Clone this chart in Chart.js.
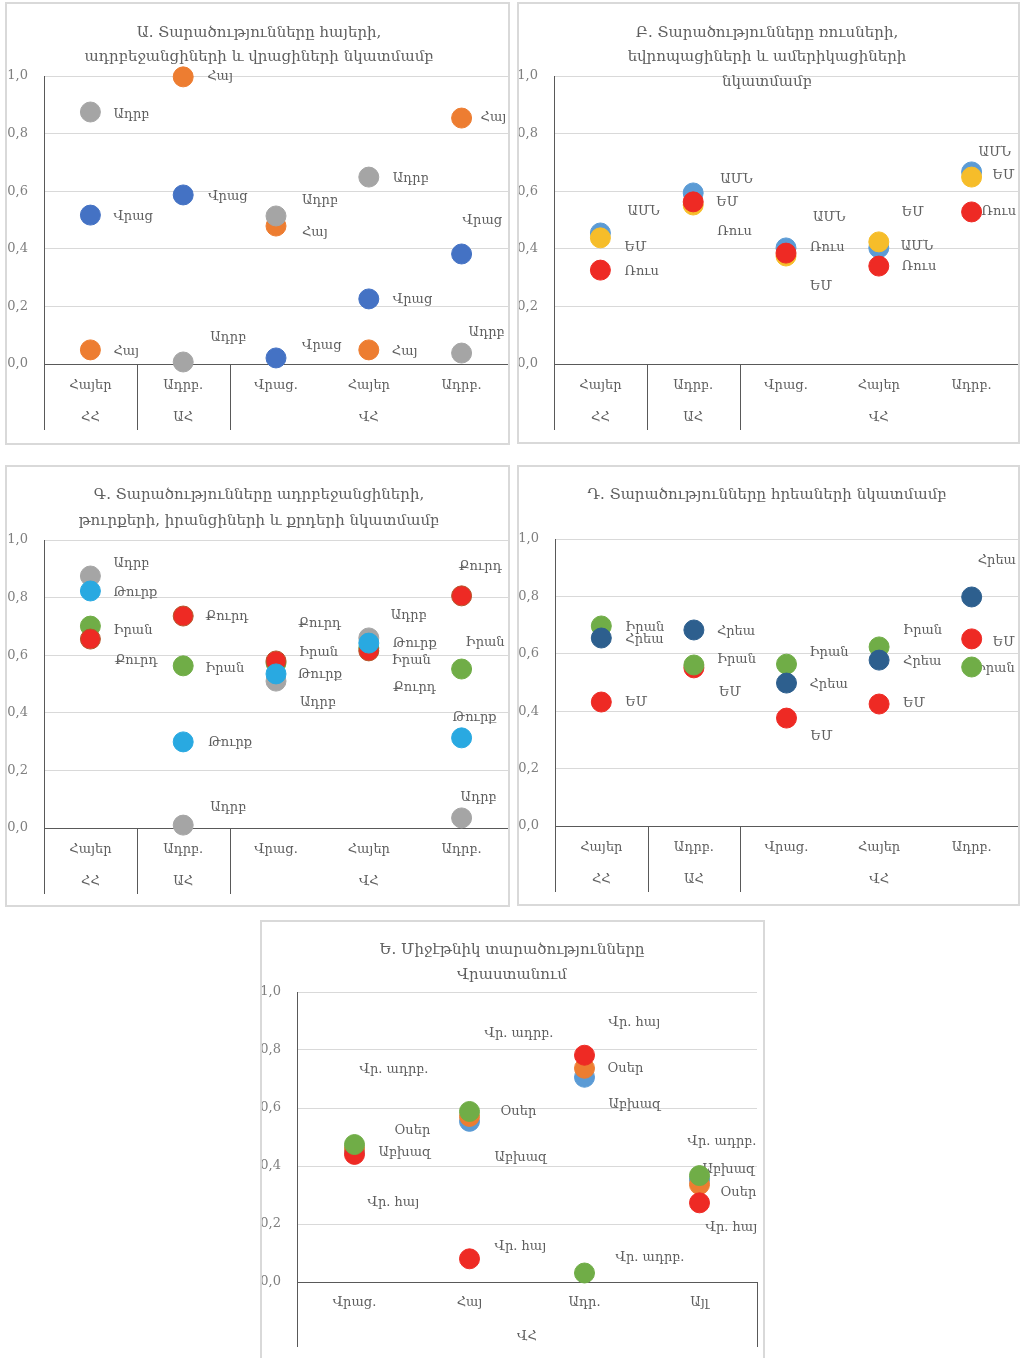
<!DOCTYPE html>
<html>
<head>
<meta charset="utf-8">
<script src="https://cdn.jsdelivr.net/npm/chart.js@4.4.0/dist/chart.umd.min.js"></script>
<style>
  body { margin: 0; background: #fff; overflow: hidden; }
  .box { position: absolute; border: 2px solid #d9d9d9; box-sizing: border-box; background: #fff; }
  .box div { position: absolute; left: 0; top: 0; right: 0; bottom: 0; }
</style>
</head>
<body>
<div class="box" id="boxA"><div><canvas id="chA"></canvas></div></div>
<div class="box" id="boxB"><div><canvas id="chB"></canvas></div></div>
<div class="box" id="boxC"><div><canvas id="chC"></canvas></div></div>
<div class="box" id="boxD"><div><canvas id="chD"></canvas></div></div>
<div class="box" id="boxE"><div><canvas id="chE"></canvas></div></div>
<script>
// categories and groups (label, first index, last index)
const catsAD = ['Հայեր', 'Ադրբ.', 'Վրաց.', 'Հայեր', 'Ադրբ.'];
const groupsAD = [['ՀՀ', 0, 0], ['ԱՀ', 1, 1], ['ՎՀ', 2, 4]];
const catsE = ['Վրաց.', 'Հայ', 'Ադր.', 'Այլ'];
const groupsE = [['ՎՀ', 0, 3]];

// A
const aAdrb = [0.875, 0.007, 0.514, 0.649, 0.038];
const aHay = [0.049, 0.997, 0.479, 0.049, 0.854];
const aVrac = [0.517, 0.587, 0.021, 0.226, 0.382];
// B
const bRus = [0.326, 0.563, 0.385, 0.34, 0.528];
const bEM = [0.438, 0.552, 0.375, 0.424, 0.649];
const bUSA = [0.455, 0.594, 0.403, 0.403, 0.667];
// C
const cTurk = [0.823, 0.299, 0.535, 0.642, 0.313];
const cKurd = [0.656, 0.736, 0.58, 0.615, 0.806];
const cIran = [0.701, 0.563, 0.573, 0.625, 0.552];
const cAdrb = [0.875, 0.01, 0.51, 0.66, 0.035];
// D
const dHrea = [0.655, 0.683, 0.498, 0.578, 0.798];
const dIran = [0.697, 0.561, 0.564, 0.624, 0.554];
const dEM = [0.432, 0.551, 0.376, 0.425, 0.652];
// E
const eAdrb = [0.474, 0.588, 0.031, 0.367];
const eHay = [0.44, 0.08, 0.782, 0.273];
const eOser = [0.46, 0.571, 0.737, 0.336];
const eAbkh = [0.45, 0.554, 0.706, 0.353];

// data label offsets from point centre (px)
const aAdrbPos = [[23, 3], [27, -24], [26, -15], [24, 2], [7, -20]];
const aHayPos = [[23, 2], [24, 0], [26, 7], [23, 2], [19, 0]];
const aVracPos = [[23, 2], [25, 2], [26, -12], [24, 1], [1, -33]];
const bUSAPos = [[27, -21], [27, -13], [27, -30], [22, -1], [7, -19]];
const bEMPos = [[24, 10], [23, -2], [24, 31], [23, -29], [21, -1]];
const bRusPos = [[24, 2], [24, 30], [24, -5], [23, 1], [10, 0]];
const cAdrbPos = [[23, -12], [27, -17], [24, 22], [22, -22], [-1, -20]];
const cTurkPos = [[23, 2], [25, 1], [22, 1], [24, 1], [-9, -20]];
const cIranPos = [[23, 5], [22, 3], [23, -10], [23, 13], [4, -26]];
const cKurdPos = [[24, 22], [22, 1], [22, -37], [24, 37], [-3, -29]];
const dIranPos = [[24, 2], [23, -5], [23, -12], [24, -16], [4, 2]];
const dHreaPos = [[24, 2], [23, 2], [23, 2], [24, 2], [6, -36]];
const dEMPos = [[24, 1], [25, 25], [24, 19], [24, 0], [21, 4]];
const eAdrbPos = [[5, -75], [15, -78], [31, -15], [-12, -34]];
const eHayPos = [[13, 48], [25, -12], [24, -33], [6, 25]];
const eOserPos = [[40, -18], [31, -5], [23, 0], [21, 8]];
const eAbkhPos = [[24, 1], [25, 36], [24, 27], [3, -10]];

const FONT = "'DejaVu Serif', serif";
const TEXT = '#5f5f5f';
const AXIS = '#595959';
const RED = '#ee2a24', ORANGE = '#ed7d31', GRAY = '#a5a5a5', BLUE = '#4472c4',
  LBLUE = '#5b9bd5', YELLOW = '#f6bd2a', GREEN = '#70ad47', CYAN = '#29a9e1', NAVY = '#2d5f8e';

function drawChart(id, o) {
  const box = document.getElementById('box' + id);
  box.style.left = o.box[0] + 'px';
  box.style.top = o.box[1] + 'px';
  box.style.width = o.box[2] + 'px';
  box.style.height = o.box[3] + 'px';
  const inL = o.box[0] + 2, inT = o.box[1] + 2;
  const inR = o.box[0] + o.box[2] - 2, inB = o.box[1] + o.box[3] - 2;

  // point labels drawn under the markers, like the original
  const labels = {
    id: 'pointLabels',
    beforeDatasetsDraw(chart) {
      const ctx = chart.ctx;
      ctx.save();
      ctx.font = '13px ' + FONT;
      ctx.fillStyle = TEXT;
      ctx.textAlign = 'left';
      ctx.textBaseline = 'middle';
      chart.data.datasets.forEach((ds, i) => {
        chart.getDatasetMeta(i).data.forEach((pt, j) => {
          const p = ds.pos[j];
          ctx.fillText(ds.label, pt.x + p[0], pt.y + p[1]);
        });
      });
      ctx.restore();
    }
  };

  // title, group row and separators under the axis
  const frame = {
    id: 'frame',
    afterDraw(chart) {
      const ctx = chart.ctx, xs = chart.scales.x, area = chart.chartArea;
      ctx.save();
      ctx.strokeStyle = AXIS;
      ctx.lineWidth = 1;
      const edges = o.groups.map(g => g[1] - 0.5);
      if (o.closeRight) edges.push(o.cats.length - 0.5);
      edges.forEach(v => {
        const x = Math.round(xs.getPixelForValue(v)) + 0.5;
        ctx.beginPath();
        ctx.moveTo(x, area.bottom);
        ctx.lineTo(x, area.bottom + o.sepLen);
        ctx.stroke();
      });
      ctx.fillStyle = TEXT;
      ctx.font = '13px ' + FONT;
      ctx.textAlign = 'center';
      ctx.textBaseline = 'middle';
      o.groups.forEach(g => {
        ctx.fillText(g[0], xs.getPixelForValue((g[1] + g[2]) / 2), area.bottom + o.groupDy);
      });
      ctx.font = '15px ' + FONT;
      o.title.forEach((t, i) => {
        ctx.fillText(t, o.titleX - inL, o.titleY[i] - inT);
      });
      ctx.restore();
    }
  };

  new Chart(document.getElementById('ch' + id), {
    type: 'line',
    data: {
      labels: o.cats,
      datasets: o.series.map(s => ({
        label: s.name,
        data: s.data,
        pos: s.pos,
        backgroundColor: s.color,
        borderColor: s.edge || s.color,
        borderWidth: 1,
        pointRadius: 10,
        pointHoverRadius: 10,
        showLine: false,
        clip: false
      }))
    },
    options: {
      responsive: true,
      maintainAspectRatio: false,
      animation: false,
      events: [],
      layout: {
        autoPadding: false,
        padding: { top: o.plot[1] - inT, right: inR - o.plot[2], left: 0, bottom: 0 }
      },
      plugins: { legend: { display: false }, tooltip: { enabled: false }, title: { display: false } },
      scales: {
        x: {
          offset: true,
          grid: { display: false, drawTicks: false },
          border: { display: true, color: AXIS, width: 1 },
          ticks: { padding: o.tickPad, color: TEXT, font: { family: FONT, size: 13 }, maxRotation: 0 },
          afterFit(s) {
            s.height = inB - o.plot[3];
            s.paddingLeft = 0;
            s.paddingRight = 0;
          }
        },
        y: {
          min: 0,
          max: 1,
          grid: { color: '#d9d9d9', drawTicks: false },
          border: { display: true, color: AXIS, width: 1 },
          ticks: {
            stepSize: 0.2, padding: 16, color: '#7f7f7f', font: { family: FONT, size: 13 },
            callback: v => v.toFixed(1).replace('.', ',')
          },
          afterFit(s) { s.width = o.plot[0] - inL; }
        }
      }
    },
    plugins: [labels, frame]
  });
}

drawChart('A', {
  box: [5, 2, 505, 443], plot: [44, 76, 508, 364],
  title: ['Ա. Տարածությունները հայերի,', 'ադրբեջանցիների և վրացիների նկատմամբ'],
  titleX: 259, titleY: [33, 57],
  cats: catsAD, groups: groupsAD, tickPad: 14, groupDy: 54, sepLen: 66,
  series: [
    { name: 'Ադրբ', data: aAdrb, pos: aAdrbPos, color: GRAY },
    { name: 'Հայ', data: aHay, pos: aHayPos, color: ORANGE },
    { name: 'Վրաց', data: aVrac, pos: aVracPos, color: BLUE }
  ]
});

drawChart('B', {
  box: [517, 2, 503, 442], plot: [554, 76, 1018, 364],
  title: ['Բ. Տարածությունները ռուսների,', 'եվրոպացիների և ամերիկացիների', 'նկատմամբ'],
  titleX: 767, titleY: [33, 57, 82],
  cats: catsAD, groups: groupsAD, tickPad: 14, groupDy: 54, sepLen: 66,
  series: [
    { name: 'Ռուս', data: bRus, pos: bRusPos, color: RED },
    { name: 'ԵՄ', data: bEM, pos: bEMPos, color: YELLOW },
    { name: 'ԱՄՆ', data: bUSA, pos: bUSAPos, color: LBLUE }
  ]
});

drawChart('C', {
  box: [5, 465, 505, 442], plot: [44, 540, 508, 828],
  title: ['Գ. Տարածությունները ադրբեջանցիների,', 'թուրքերի, իրանցիների և քրդերի նկատմամբ'],
  titleX: 259, titleY: [495, 521],
  cats: catsAD, groups: groupsAD, tickPad: 14, groupDy: 54, sepLen: 66,
  series: [
    { name: 'Թուրք', data: cTurk, pos: cTurkPos, color: CYAN },
    { name: 'Քուրդ', data: cKurd, pos: cKurdPos, color: RED, edge: '#b5562a' },
    { name: 'Իրան', data: cIran, pos: cIranPos, color: GREEN },
    { name: 'Ադրբ', data: cAdrb, pos: cAdrbPos, color: GRAY }
  ]
});

drawChart('D', {
  box: [517, 465, 503, 441], plot: [555, 539, 1018, 826],
  title: ['Դ. Տարածությունները հրեաների նկատմամբ'],
  titleX: 767, titleY: [495],
  cats: catsAD, groups: groupsAD, tickPad: 14, groupDy: 54, sepLen: 66,
  series: [
    { name: 'Հրեա', data: dHrea, pos: dHreaPos, color: NAVY },
    { name: 'Իրան', data: dIran, pos: dIranPos, color: GREEN },
    { name: 'ԵՄ', data: dEM, pos: dEMPos, color: RED }
  ]
});

drawChart('E', {
  box: [260, 920, 505, 442], plot: [297, 992, 757, 1282],
  title: ['Ե. Միջէթնիկ տարածությունները', 'Վրաստանում'],
  titleX: 512, titleY: [950, 975],
  cats: catsE, groups: groupsE, closeRight: true, tickPad: 13, groupDy: 55, sepLen: 65,
  series: [
    { name: 'Վր. ադրբ.', data: eAdrb, pos: eAdrbPos, color: GREEN },
    { name: 'Վր. հայ', data: eHay, pos: eHayPos, color: RED },
    { name: 'Օսեր', data: eOser, pos: eOserPos, color: ORANGE },
    { name: 'Աբխազ', data: eAbkh, pos: eAbkhPos, color: LBLUE }
  ]
});
</script>
</body>
</html>
